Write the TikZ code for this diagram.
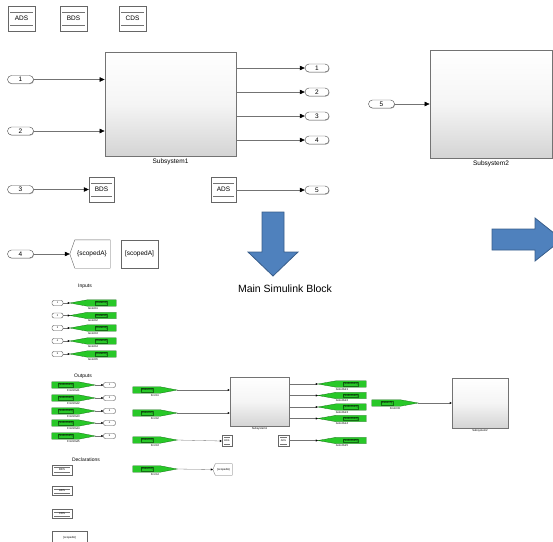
\documentclass[tikz,border=0pt]{standalone}
\usepackage{fontspec}
\setmainfont{Liberation Sans}
\usetikzlibrary{arrows.meta,shadows,calc}
\definecolor{gfill}{RGB}{40,200,40}
\definecolor{gline}{RGB}{20,110,20}
\definecolor{bfill}{RGB}{79,129,189}
\definecolor{bline}{RGB}{56,93,138}
\newcommand\gotoblk[6]{%
  \node[gbox, minimum width=#4] (#1) at (#2,#3) {};
  \filldraw[gdraw] (#1.west) -- ($(#1.north west)!0.38!(#1.north east)$) -- (#1.north east) -- (#1.south east) -- ($(#1.south west)!0.38!(#1.south east)$) -- cycle;
  \node[gtag] (#1t) at ($(#1.west)!0.68!(#1.east)$) {#5};
  \node[glab] (#1l) at ([yshift=-0.8pt]#1.south) {#6};}
\newcommand\fromblk[6]{%
  \node[gbox, minimum width=#4] (#1) at (#2,#3) {};
  \filldraw[gdraw] (#1.north west) -- ($(#1.north west)!0.62!(#1.north east)$) -- (#1.east) -- ($(#1.south west)!0.62!(#1.south east)$) -- (#1.south west) -- cycle;
  \node[gtag] (#1t) at ($(#1.west)!0.32!(#1.east)$) {#5};
  \node[glab] (#1l) at ([yshift=-0.8pt]#1.south) {#6};}
\begin{document}
\begin{tikzpicture}[x=1pt,y=-1pt,
  port/.style={draw=black!70, fill=white, rounded corners=4pt, minimum width=26pt, minimum height=8pt, inner sep=0pt, font=\fontsize{6.5}{7}\selectfont, drop shadow={shadow xshift=0.5pt, shadow yshift=-0.7pt, fill=black!35, opacity=1}},
  sport/.style={draw=black!70, fill=white, rounded corners=2pt, minimum width=11pt, minimum height=5pt, inner sep=0pt, font=\fontsize{2.5}{3}\selectfont},
  dsm/.style={draw=black!60, fill=white, inner sep=0pt, font=\fontsize{6.5}{7}\selectfont,
    drop shadow={shadow xshift=0.8pt, shadow yshift=-0.8pt, fill=black!35, opacity=1},
    path picture={\draw[black!55] ([xshift=2pt,yshift=-#1]path picture bounding box.north west) -- ([xshift=-2pt,yshift=-#1]path picture bounding box.north east);
                  \draw[black!55] ([xshift=2pt,yshift=#1]path picture bounding box.south west) -- ([xshift=-2pt,yshift=#1]path picture bounding box.south east);}},
  dsm/.default=6pt,
  plainbox/.style={draw=black!60, fill=white, inner sep=0pt, drop shadow={shadow xshift=0.8pt, shadow yshift=-0.8pt, fill=black!35, opacity=1}},
  subsys/.style={draw=black!55, line width=0.8pt, top color=white, bottom color={rgb,255:red,212;green,212;blue,212}, middle color=white!96!black, inner sep=0pt},
  sublab/.style={anchor=north, font=\fontsize{6.5}{7}\selectfont, inner sep=0pt},
  conn/.style={draw=black!55, line width=0.5pt, -{Triangle[length=5pt,width=4.5pt,color=black]}},
  sconn/.style={draw=black!55, line width=0.3pt, -{Triangle[length=2pt,width=2pt,color=black]}},
  gbox/.style={minimum height=6pt, inner sep=0pt},
  gdraw/.style={fill=gfill, draw=gline, line width=0.3pt},
  gtag/.style={draw=gline, line width=0.2pt, inner sep=0.3pt, font=\fontsize{2.8}{3}\selectfont},
  glab/.style={anchor=north, inner sep=0pt, font=\fontsize{2.8}{3}\selectfont},
  ttl/.style={font=\fontsize{5}{6}\selectfont, inner sep=0pt},
  barrow/.style={fill=bfill, draw=bline, line width=0.8pt}
]
\useasboundingbox (0,0) rectangle (553,541);
\clip (0,0) rectangle (553,541);

% ---------------- top: main model ----------------
\node[dsm, minimum width=27pt, minimum height=25pt] (ads) at (21.5,18.5) {ADS};
\node[dsm, minimum width=27pt, minimum height=25pt] (bds) at (73.5,18.5) {BDS};
\node[dsm, minimum width=27pt, minimum height=25pt] (cds) at (132.5,18.5) {CDS};

\node[subsys, minimum width=131pt, minimum height=104pt] (s1) at (170.5,104) {};
\node[sublab] (s1l) at ([yshift=-2.5pt]s1.south) {Subsystem1};
\node[subsys, minimum width=122pt, minimum height=108pt] (s2) at (491,104) {};
\node[sublab] (s2l) at ([yshift=-2.5pt]s2.south) {Subsystem2};

\node[port] (i1) at (20.5,79.5) {1};
\node[port] (i2) at (20.5,131) {2};
\node[port] (i3) at (20.5,189.5) {3};
\node[port] (i4) at (20.5,254) {4};
\node[port] (i5) at (381.5,104) {5};

\node[port, minimum width=24pt] (o1) at (317,68) {1};
\node[port, minimum width=24pt] (o2) at (317,92) {2};
\node[port, minimum width=24pt] (o3) at (317,116) {3};
\node[port, minimum width=24pt] (o4) at (317,140) {4};
\node[port, minimum width=24pt] (o5) at (317,190) {5};

\node[dsm, minimum width=25pt, minimum height=25pt] (bdsw) at (101.5,189.5) {BDS};
\node[dsm, minimum width=25pt, minimum height=25pt] (adsr) at (223.5,189.5) {ADS};

\node[minimum width=40pt, minimum height=28pt, inner sep=0pt] (gsa) at (90,254) {};
\filldraw[draw=black!60, fill=white] ($(gsa.north west)+(5,0)$) -- (gsa.north east) -- (gsa.south east) -- ($(gsa.south west)+(5,0)$) -- (gsa.west) -- cycle;
\node[font=\fontsize{6.5}{7}\selectfont, inner sep=0pt] (gsat) at ([xshift=2pt]gsa.center) {\{scopedA\}};
\node[plainbox, minimum width=37pt, minimum height=28pt, font=\fontsize{6.5}{7}\selectfont] (tsa) at (139.5,254) {[scopedA]};

\draw[conn] (i1.east) -- (s1.west |- i1.east);
\draw[conn] (i2.east) -- (s1.west |- i2.east);
\draw[conn] (s1.east |- o1.west) -- (o1.west);
\draw[conn] (s1.east |- o2.west) -- (o2.west);
\draw[conn] (s1.east |- o3.west) -- (o3.west);
\draw[conn] (s1.east |- o4.west) -- (o4.west);
\draw[conn] (i3.east) -- (bdsw.west);
\draw[conn] (adsr.east |- o5.west) -- (o5.west);
\draw[conn] (i4.east) -- (gsa.west);
\draw[conn] (i5.east) -- (s2.west |- i5.east);

% blue arrows
\filldraw[barrow] (262,212) -- (284,212) -- (284,252) -- (298,252) -- (273,276) -- (248,252) -- (262,252) -- cycle;
\filldraw[barrow] (492,229) -- (535,229) -- (535,218) -- (562,239.5) -- (535,261) -- (535,250) -- (492,250) -- cycle;
\node[font=\fontsize{10.5}{12}\selectfont, inner sep=0pt] (title) at (285,289) {Main Simulink Block};

% ---------------- bottom: reduced model ----------------
\node[ttl] (tin) at (85,286) {Inputs};
\foreach \k/\y in {1/303,2/315.5,3/328,4/341,5/354}{
  \node[sport] (pi\k) at (57.5,\y) {\k};
  \gotoblk{gi\k}{93}{\y}{46pt}{[DataIn\k]}{GotoIn\k}
  \draw[sconn] (pi\k.east) -- (gi\k.west);
}

\node[ttl] (tout) at (83,376) {Outputs};
\foreach \k/\y in {1/385,2/398,3/411,4/423,5/436}{
  \fromblk{fo\k}{73.5}{\y}{43pt}{[SubsOut\k]}{FromOut\k}
  \node[sport, minimum width=12pt] (po\k) at (109.5,\y) {\k};
  \draw[sconn] (fo\k.east) -- (po\k.west);
}

\node[ttl] (tdec) at (86,460) {Declarations};
\node[dsm=2.5pt, minimum width=20pt, minimum height=10pt, font=\fontsize{2.8}{3}\selectfont, drop shadow={shadow xshift=0.5pt, shadow yshift=-0.5pt, fill=black!35, opacity=1}] (dbds) at (62,470) {BDS};
\node[dsm=2.5pt, minimum width=20pt, minimum height=9pt, font=\fontsize{2.8}{3}\selectfont, drop shadow={shadow xshift=0.5pt, shadow yshift=-0.5pt, fill=black!35, opacity=1}] (dads) at (62,491) {ADS};
\node[dsm=2.5pt, minimum width=20pt, minimum height=9pt, font=\fontsize{2.8}{3}\selectfont, drop shadow={shadow xshift=0.5pt, shadow yshift=-0.5pt, fill=black!35, opacity=1}] (dcds) at (62,514) {CDS};
\node[plainbox, minimum width=35pt, minimum height=14pt, font=\fontsize{2.8}{3}\selectfont] (dsa) at (69.5,538) {[scopedA]};

% middle
\fromblk{fm1}{155}{390}{44pt}{[DataIn1]}{From1}
\fromblk{fm2}{155}{413}{44pt}{[DataIn2]}{From2}
\fromblk{fm3}{155}{440}{44pt}{[DataIn3]}{From3}
\fromblk{fm4}{155}{469}{44pt}{[DataIn4]}{From4}

\node[subsys, line width=0.5pt, minimum width=59pt, minimum height=49pt] (s1s) at (259.5,401.5) {};
\node[glab] (s1sl) at ([yshift=-1.5pt]s1s.south) {Subsystem1};
\node[dsm=2pt, minimum width=10pt, minimum height=11pt, font=\fontsize{2.5}{3}\selectfont, drop shadow={shadow xshift=0.5pt, shadow yshift=-0.5pt, fill=black!35, opacity=1}] (sbds) at (227,441) {BDS};
\node[minimum width=19pt, minimum height=11pt, inner sep=0pt] (sgsa) at (222.5,469.5) {};
\filldraw[draw=black!60, fill=white, line width=0.3pt] ($(sgsa.north west)+(2.5,0)$) -- (sgsa.north east) -- (sgsa.south east) -- ($(sgsa.south west)+(2.5,0)$) -- (sgsa.west) -- cycle;
\node[font=\fontsize{2.8}{3}\selectfont, inner sep=0pt] (sgsat) at ([xshift=1pt]sgsa.center) {\{scopedA\}};

\draw[sconn] (fm1.east) -- (s1s.west |- fm1.east);
\draw[sconn] (fm2.east) -- (s1s.west |- fm2.east);
\draw[sconn] (fm3.east) -- (sbds.west);
\draw[sconn] (fm4.east) -- (sgsa.west);

\gotoblk{go1}{342}{384}{48pt}{[SubsOut1]}{GotoOut1}
\gotoblk{go2}{342}{395.5}{48pt}{[SubsOut2]}{GotoOut2}
\gotoblk{go3}{342}{407}{48pt}{[SubsOut3]}{GotoOut3}
\gotoblk{go4}{342}{418.5}{48pt}{[SubsOut4]}{GotoOut4}
\gotoblk{go5}{342}{440.5}{48pt}{[SubsOut5]}{GotoOut5}
\node[dsm=2pt, minimum width=11pt, minimum height=11pt, font=\fontsize{2.5}{3}\selectfont, drop shadow={shadow xshift=0.5pt, shadow yshift=-0.5pt, fill=black!35, opacity=1}] (sads) at (283.5,440.5) {ADS};

\draw[sconn] (s1s.east |- go1.west) -- (go1.west);
\draw[sconn] (s1s.east |- go2.west) -- (go2.west);
\draw[sconn] (s1s.east |- go3.west) -- (go3.west);
\draw[sconn] (s1s.east |- go4.west) -- (go4.west);
\draw[sconn] (sads.east) -- (go5.west);

\fromblk{fr5}{395}{403}{46pt}{[DataIn5]}{FromIn5}
\node[subsys, line width=0.5pt, minimum width=56pt, minimum height=50pt] (s2s) at (480,403) {};
\node[glab] (s2sl) at ([yshift=-1.5pt]s2s.south) {Subsystem2};
\draw[sconn] (fr5.east) -- (s2s.west |- fr5.east);
\end{tikzpicture}
\end{document}
